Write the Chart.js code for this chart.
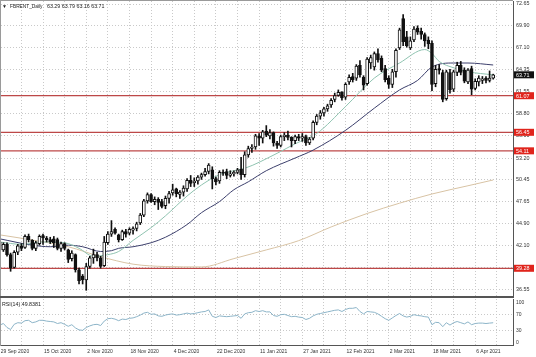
<!DOCTYPE html>
<html><head><meta charset="utf-8">
<script src="https://cdn.jsdelivr.net/npm/chart.js@4.4.1/dist/chart.umd.min.js"></script>
<style>
html,body{margin:0;padding:0;background:#fff;overflow:hidden;width:536px;height:357px;}
#wrap{position:relative;width:536px;height:357px;overflow:hidden;background:#fff;}
#c1{position:absolute;left:-2px;top:0;width:540px;height:297px;}
#c2{position:absolute;left:-2px;top:297px;width:540px;height:60px;}
.ln{position:absolute;}
</style></head><body>
<div id="wrap">
<canvas id="c1" width="540" height="297"></canvas>
<canvas id="c2" width="540" height="60"></canvas>
<div class="ln" style="left:0;top:0;width:513px;height:1px;background:#9a9a9a"></div>
<div class="ln" style="left:0;top:0;width:1px;height:346px;background:#9a9a9a"></div>
<div class="ln" style="left:0;top:296px;width:514px;height:2px;background:#555"></div>
</div>
<script>
// ---------- data ----------
const dates = ['29 Sep 2020','30 Sep 2020','1 Oct 2020','2 Oct 2020','5 Oct 2020','6 Oct 2020','7 Oct 2020','8 Oct 2020','9 Oct 2020','12 Oct 2020','13 Oct 2020','14 Oct 2020','15 Oct 2020','16 Oct 2020','19 Oct 2020','20 Oct 2020','21 Oct 2020','22 Oct 2020','23 Oct 2020','26 Oct 2020','27 Oct 2020','28 Oct 2020','29 Oct 2020','30 Oct 2020','2 Nov 2020','3 Nov 2020','4 Nov 2020','5 Nov 2020','6 Nov 2020','9 Nov 2020','10 Nov 2020','11 Nov 2020','12 Nov 2020','13 Nov 2020','16 Nov 2020','17 Nov 2020','18 Nov 2020','19 Nov 2020','20 Nov 2020','23 Nov 2020','24 Nov 2020','25 Nov 2020','26 Nov 2020','27 Nov 2020','30 Nov 2020','1 Dec 2020','2 Dec 2020','3 Dec 2020','4 Dec 2020','7 Dec 2020','8 Dec 2020','9 Dec 2020','10 Dec 2020','11 Dec 2020','14 Dec 2020','15 Dec 2020','16 Dec 2020','17 Dec 2020','18 Dec 2020','21 Dec 2020','22 Dec 2020','23 Dec 2020','24 Dec 2020','28 Dec 2020','29 Dec 2020','30 Dec 2020','31 Dec 2020','4 Jan 2021','5 Jan 2021','6 Jan 2021','7 Jan 2021','8 Jan 2021','11 Jan 2021','12 Jan 2021','13 Jan 2021','14 Jan 2021','15 Jan 2021','18 Jan 2021','19 Jan 2021','20 Jan 2021','21 Jan 2021','22 Jan 2021','25 Jan 2021','26 Jan 2021','27 Jan 2021','28 Jan 2021','29 Jan 2021','1 Feb 2021','2 Feb 2021','3 Feb 2021','4 Feb 2021','5 Feb 2021','8 Feb 2021','9 Feb 2021','10 Feb 2021','11 Feb 2021','12 Feb 2021','15 Feb 2021','16 Feb 2021','17 Feb 2021','18 Feb 2021','19 Feb 2021','22 Feb 2021','23 Feb 2021','24 Feb 2021','25 Feb 2021','26 Feb 2021','1 Mar 2021','2 Mar 2021','3 Mar 2021','4 Mar 2021','5 Mar 2021','8 Mar 2021','9 Mar 2021','10 Mar 2021','11 Mar 2021','12 Mar 2021','15 Mar 2021','16 Mar 2021','17 Mar 2021','18 Mar 2021','19 Mar 2021','22 Mar 2021','23 Mar 2021','24 Mar 2021','25 Mar 2021','26 Mar 2021','29 Mar 2021','30 Mar 2021','31 Mar 2021','1 Apr 2021','5 Apr 2021','6 Apr 2021','7 Apr 2021','8 Apr 2021','9 Apr 2021','12 Apr 2021','13 Apr 2021'];

const opens = [42.6,41.6,42.3,41.0,39.4,41.3,42.1,41.9,43.3,42.8,
41.8,42.4,43.4,43.1,42.9,43.0,42.9,41.8,42.4,41.6,
40.5,41.0,39.1,38.3,37.8,39.5,40.6,41.0,40.6,39.6,
42.5,43.6,44.2,43.5,42.9,43.9,43.7,44.1,44.3,45.0,
46.0,47.8,48.6,47.7,48.0,47.7,47.2,48.1,48.8,49.3,
48.6,48.9,49.3,50.4,50.1,50.3,50.8,51.1,51.5,51.7,
50.6,50.3,51.4,51.5,51.0,51.2,51.4,51.8,51.1,53.6,
54.4,54.6,56.0,55.7,56.6,56.0,56.4,55.1,54.8,55.9,
56.1,55.8,55.4,55.9,55.7,55.9,55.1,55.7,57.7,58.5,
58.9,59.4,59.9,60.6,61.1,61.5,60.9,62.8,63.5,63.3,
64.9,63.4,62.6,65.2,64.7,66.4,65.8,64.5,63.3,62.5,
64.1,67.1,70.8,68.5,67.1,68.1,69.6,69.2,68.8,68.1,
67.7,62.6,64.5,64.0,60.7,64.0,61.9,64.0,64.9,64.3,
62.8,64.5,62.0,62.8,63.0,63.3,63.0,63.29];
const highs = [42.9,42.5,42.5,41.2,41.5,42.3,42.4,43.5,43.6,42.9,
42.7,43.5,43.6,43.3,43.2,43.3,43.1,42.6,42.5,41.7,
41.5,41.1,39.3,38.5,39.9,40.8,41.7,41.3,40.8,43.3,
43.9,45.3,44.4,43.6,44.1,44.2,44.4,44.5,45.1,46.2,
48.0,48.8,48.7,48.3,48.2,48.0,48.4,49.0,49.9,49.4,
49.1,49.7,50.6,51.0,50.7,51.0,51.3,51.9,52.5,52.1,
50.8,51.6,51.7,51.8,51.6,51.6,51.9,53.3,54.0,54.7,
54.9,56.2,56.3,56.7,57.3,56.8,56.5,55.3,56.1,56.4,
56.6,55.9,56.1,56.2,56.3,56.1,55.8,57.9,58.7,59.2,
59.6,60.0,60.7,61.4,61.8,61.6,62.7,63.7,63.9,65.0,
65.5,63.6,65.9,66.2,66.6,67.0,66.1,64.9,63.6,64.4,
67.0,69.6,71.3,69.2,68.5,69.8,69.9,69.6,69.0,68.5,
68.0,64.9,65.0,64.3,64.3,64.4,64.3,65.3,65.4,64.6,
64.5,64.8,63.2,63.6,63.5,63.5,64.2,63.79];
const lows = [41.3,41.4,40.8,38.9,39.3,41.0,41.5,41.8,42.6,41.6,
41.5,42.2,42.3,42.6,42.4,41.9,41.6,41.4,41.6,40.0,
40.2,38.8,37.3,37.3,36.5,39.3,39.9,40.2,39.3,39.5,
42.3,43.3,43.6,42.6,42.8,43.2,43.5,43.6,44.0,44.8,
45.8,47.5,47.6,47.3,46.7,46.9,46.8,47.5,48.5,48.3,
48.1,48.4,49.0,49.6,49.6,49.9,50.5,50.9,51.2,49.3,
49.8,50.0,51.0,50.6,50.8,50.9,51.2,50.5,50.8,53.3,
53.9,54.3,54.8,55.1,55.9,55.6,54.7,54.4,54.6,55.4,
55.5,54.6,55.0,55.4,55.3,54.8,54.9,55.5,57.4,58.1,
58.5,59.1,59.6,60.3,61.0,60.5,60.6,62.5,62.8,63.0,
63.4,61.8,62.4,64.5,64.3,65.3,64.1,62.8,62.0,62.1,
63.4,66.9,67.4,67.2,66.9,67.9,68.8,68.2,67.3,67.0,
61.7,62.2,63.8,60.3,60.5,61.4,61.6,63.6,63.7,62.7,
62.6,61.2,61.8,62.3,62.6,62.7,62.8,63.16];
const closes = [41.6,42.3,41.0,39.3,41.3,42.1,41.8,43.3,42.9,41.8,
42.5,43.3,43.1,42.9,42.6,42.5,41.8,42.4,41.8,40.4,
41.2,39.1,37.7,37.8,39.5,40.6,41.0,40.6,39.5,42.6,
43.6,43.9,43.7,42.9,43.9,43.6,44.2,44.3,44.9,46.0,
47.8,48.6,47.7,48.0,47.6,47.1,48.1,48.7,49.2,48.7,
48.9,49.4,50.4,50.0,50.3,50.8,51.1,51.5,52.3,50.6,
50.2,51.4,51.3,51.0,51.2,51.4,51.7,51.1,53.6,54.4,
54.6,56.0,55.7,56.5,56.1,56.4,55.1,54.8,55.9,56.1,
55.8,55.4,55.9,55.7,55.9,55.1,55.6,57.7,58.5,58.9,
59.4,59.8,60.5,61.1,61.5,60.8,62.5,63.4,63.1,64.8,
63.7,62.4,65.7,65.9,66.4,65.6,64.3,63.1,62.5,64.1,
66.8,69.4,67.9,67.4,68.0,69.5,69.1,68.8,68.0,67.6,
62.5,64.4,64.3,60.6,64.1,61.8,64.1,64.9,64.0,62.9,
64.3,61.9,62.9,63.3,63.2,63.0,63.3,63.71];

// moving averages at these bar positions
const maSlowAt  = [0,9,19,28,37,46,56,65,74,83,92,102,111,120,130,137];
const maSlowVal = [43.5,42.85,42.0,40.75,39.8,39.5,39.45,40.5,41.6,42.77,44.5,46.2,47.5,48.66,49.7,50.43];
const maMidAt   = [0,9,14,19,23,28,31,33,37,42,46,52,56,61,65,69,74,82,87,96,104,111,116,120,126,130,137];
const maMidVal  = [43.0,42.2,42.0,42.2,42.0,41.4,41.5,41.8,42.0,42.5,43.2,44.8,46.3,47.7,49.2,50.2,51.6,53.2,54.2,56.7,59.5,61.8,63.0,64.7,65.2,65.2,64.95];
const maFastAt  = [0,6,12,18,22,26,30,33,37,42,46,52,56,61,65,68,77,82,88,96,104,111,118,120,122,126,130,137];
const maFastVal = [42.6,42.3,42.6,42.5,41.8,40.8,41.0,41.4,42.8,44.4,45.9,48.4,49.8,51.1,51.6,51.9,53.8,55.0,56.3,59.7,63.3,65.2,66.9,66.4,65.4,64.6,64.1,63.7];

const rsi = [44,48,38,33,46,50,49,55,56,50, 52,56,56,54,53,52,48,50,46,41,
45,37,32,31,38,42,45,46,43,54, 60,61,59,55,59,58,61,62,65,69,
74,76,71,72,67,66,69,71,72,69, 70,72,74,72,73,75,77,78,82,66,
63,67,66,65,66,67,68,61,72,75, 76,80,78,80,77,77,68,66,70,71,
68,65,66,64,63,58,61,67,71,73, 75,77,79,81,82,78,83,86,86,88,
78,72,78,77,76,72,66,60,56,62, 68,73,67,64,66,70,68,67,65,64,
45,51,50,40,50,44,50,53,50,47, 52,45,48,49,49,48,49,49.84];

const priceTicks = [36.55,39.35,42.10,44.90,47.65,50.45,53.20,56.00,58.80,61.55,64.35,67.10,69.90,72.65];
const rsiTicks = [0,30,70,100];
const levels = [61.07,56.45,54.11,39.28];
const lastPrice = 63.71;
const symbolName = 'FBRENT_Daily';
const lastOHLC = '63.29 63.79 63.16 63.71';
const rsiText = 'RSI(14) 49.8381';

// ---------- chart setup ----------
const SLOTS = 143; // bars + empty right shift
const labels = dates.concat(new Array(SLOTS - dates.length).fill(''));
function sparse(at, val){ const a = new Array(SLOTS).fill(null); at.forEach((k,j)=>{a[k]=val[j];}); return a; }

const FONT = '"Liberation Sans", Arial, sans-serif';
Chart.defaults.font.family = FONT;
const gridCol = '#c9c9c9';
const none = 'rgba(0,0,0,0)';
const vGrid = (c) => (c.index % 6 === 0 ? gridCol : none);

const overlayPlugin = {
  id:'overlay',
  beforeDatasetsDraw(chart){
    const {ctx, chartArea:a, scales:{y}} = chart;
    ctx.save();
    ctx.strokeStyle = 'rgba(178,40,40,0.85)';
    ctx.lineWidth = 1.3;
    levels.forEach(v=>{
      const py = y.getPixelForValue(v);
      ctx.beginPath(); ctx.moveTo(a.left, py); ctx.lineTo(a.right, py); ctx.stroke();
    });
    ctx.restore();
  },
  afterDraw(chart){
    const {ctx, scales:{y}} = chart;
    ctx.save();
    ctx.textBaseline = 'middle';
    ctx.font = '5.4px ' + FONT;
    const x0 = y.left + 1;
    const box = (v, bg) => {
      const py = y.getPixelForValue(v);
      ctx.fillStyle = bg; ctx.fillRect(x0, py - 3.5, 20, 7);
      ctx.fillStyle = '#fff'; ctx.fillText(v.toFixed(2), x0 + 2, py + 0.3);
    };
    levels.forEach(v => box(v, '#e0241c'));
    box(lastPrice, '#111');
    // title
    ctx.fillStyle = '#222';
    ctx.font = '5px ' + FONT;
    ctx.fillText('\u25BC', 4, 6.5);
    ctx.font = '4.8px ' + FONT;
    ctx.fillText(symbolName, 12, 6.5);
    ctx.font = '5.3px ' + FONT;
    ctx.fillText(lastOHLC, 49, 6.5);
    ctx.restore();
  }
};

new Chart(document.getElementById('c1'), {
  type:'bar',
  data:{ labels, datasets:[
    {type:'line', data:sparse(maSlowAt,maSlowVal), borderColor:'#d8c3a4', borderWidth:1, pointRadius:0, spanGaps:true, cubicInterpolationMode:'monotone', order:6},
    {type:'line', data:sparse(maMidAt,maMidVal), borderColor:'#3c3f6c', borderWidth:1, pointRadius:0, spanGaps:true, cubicInterpolationMode:'monotone', order:5},
    {type:'line', data:sparse(maFastAt,maFastVal), borderColor:'#8fc3b0', borderWidth:1, pointRadius:0, spanGaps:true, cubicInterpolationMode:'monotone', order:4},
    {type:'bar', data:lows.map((l,i)=>[l,highs[i]]), backgroundColor:'#111', barThickness:1, grouped:false, order:2},
    {type:'bar', data:opens.map((o,i)=>[o,closes[i]]), backgroundColor:opens.map((o,i)=>closes[i]>=o?'#ffffff':'#111111'),
      borderColor:'#111', borderWidth:1, borderSkipped:false, barThickness:3, minBarLength:1, grouped:false, order:1}
  ]},
  options:{
    responsive:false, animation:false, events:[], devicePixelRatio:1,
    layout:{padding:{top:1,bottom:1,left:0,right:0}, autoPadding:false},
    plugins:{legend:{display:false}, tooltip:{enabled:false}},
    scales:{
      x:{type:'category', offset:true,
        grid:{offset:false, drawTicks:false, color:vGrid, lineWidth:1},
        border:{display:false, dash:[1,2]},
        ticks:{display:false, autoSkip:false},
        afterFit:(s)=>{s.height=0; s.paddingLeft=0; s.paddingRight=0;}},
      y:{position:'right', min:35.78, max:73.03,
        afterBuildTicks:(s)=>{s.ticks = priceTicks.map(v=>({value:v}));},
        ticks:{padding:3, color:'#333', font:{size:5.4}, autoSkip:false, callback:(v)=>Number(v).toFixed(2)},
        grid:{drawTicks:false, color:gridCol, lineWidth:1},
        border:{display:true, color:'#555', width:1, dash:[1,2]},
        afterFit:(s)=>{s.width=25; s.paddingTop=0; s.paddingBottom=0;}}
    }
  },
  plugins:[overlayPlugin]
});

const rsiPlugin = {
  id:'rsiLabel',
  afterDraw(chart){
    const ctx = chart.ctx;
    ctx.save();
    ctx.fillStyle = '#222';
    ctx.textBaseline = 'middle';
    ctx.font = '5.3px ' + FONT;
    ctx.fillText(rsiText, 4, 7.5);
    ctx.restore();
  }
};

new Chart(document.getElementById('c2'), {
  type:'line',
  data:{ labels, datasets:[
    {data:rsi, borderColor:'#8cb4c8', borderWidth:1, pointRadius:0, tension:0}
  ]},
  options:{
    responsive:false, animation:false, events:[], devicePixelRatio:1,
    layout:{padding:{top:2,bottom:0,left:0,right:0}, autoPadding:false},
    plugins:{legend:{display:false}, tooltip:{enabled:false}},
    scales:{
      x:{type:'category', offset:true,
        grid:{offset:false, drawTicks:false, color:vGrid, lineWidth:1},
        border:{display:true, color:'#555', width:1, dash:[1,2]},
        ticks:{autoSkip:false, maxRotation:0, minRotation:0, align:'start', padding:4, labelOffset:1,
          color:'#333', font:{size:5},
          callback:(v,i)=> (i % 12 === 0 && i < dates.length) ? dates[i] : ''},
        afterFit:(s)=>{s.height=12; s.paddingLeft=0; s.paddingRight=0;}},
      y:{position:'right', min:-5.75, max:109.25,
        afterBuildTicks:(s)=>{s.ticks = rsiTicks.map(v=>({value:v}));},
        ticks:{padding:3, color:'#333', font:{size:5}, autoSkip:false},
        grid:{drawTicks:false, lineWidth:1, color:(c)=> (c.tick && (c.tick.value===30 || c.tick.value===70)) ? gridCol : none},
        border:{display:true, color:'#555', width:1, dash:[1,2]},
        afterFit:(s)=>{s.width=25; s.paddingTop=0; s.paddingBottom=0;}}
    }
  },
  plugins:[rsiPlugin]
});
</script>
</body></html>
